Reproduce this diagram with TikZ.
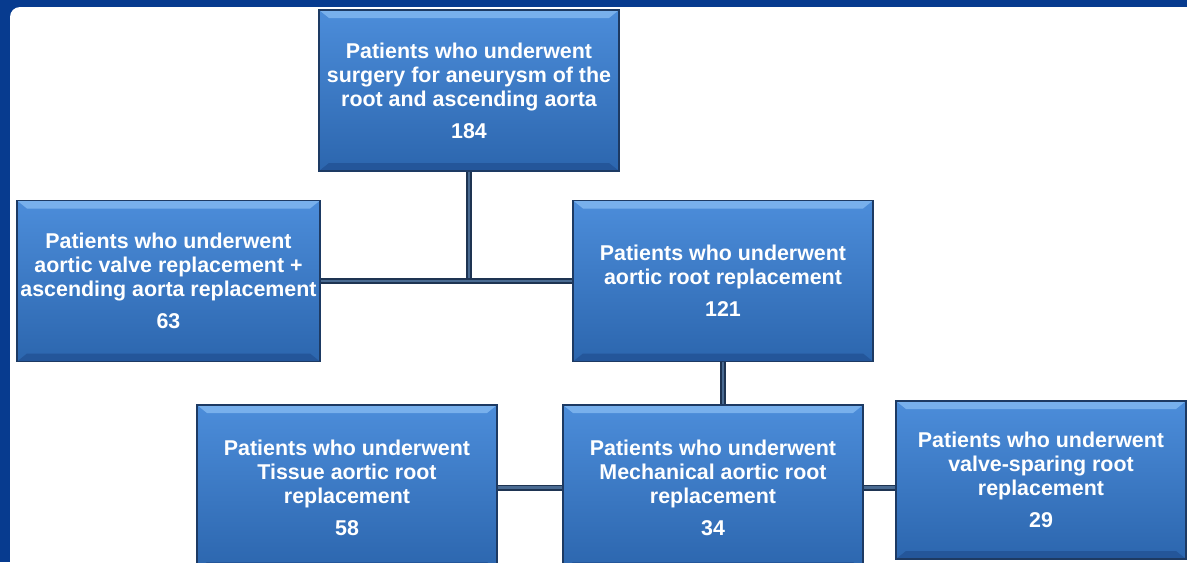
\documentclass[tikz,border=0pt]{standalone}
\usepackage{fontspec}
\setmainfont{Liberation Sans}

\definecolor{frame}{HTML}{073B8F}
\definecolor{boxedge}{HTML}{1D3A63}
\definecolor{boxtop}{HTML}{4C8DDA}
\definecolor{boxbottom}{HTML}{2C66AE}
\definecolor{boxhi}{HTML}{78B0EC}
\definecolor{boxlo}{HTML}{24569A}
\definecolor{linkedge}{HTML}{1E3452}
\definecolor{linkmid}{HTML}{4A6B92}

\begin{document}
\begin{tikzpicture}[
  x = 0.5pt,
  y = -0.5pt,
  box/.style = {
    shape = rectangle,
    draw = boxedge,
    line width = 0.8pt,
    top color = boxtop,
    bottom color = boxbottom,
    minimum width = 150pt,
    minimum height = 80.5pt,
    inner sep = 0pt,
    align = center,
    text = white,
    font = \bfseries\fontsize{10.7}{12}\selectfont,
    path picture = {
      \fill[boxhi] (path picture bounding box.north west)
        -- (path picture bounding box.north east)
        -- ([xshift = -5pt, yshift = -4pt] path picture bounding box.north east)
        -- ([xshift = 5pt, yshift = -4pt] path picture bounding box.north west) -- cycle;
      \fill[boxlo] (path picture bounding box.south west)
        -- (path picture bounding box.south east)
        -- ([xshift = -5pt, yshift = 4pt] path picture bounding box.south east)
        -- ([xshift = 5pt, yshift = 4pt] path picture bounding box.south west) -- cycle;
    }
  },
  link/.style = {
    draw = linkedge,
    line width = 0.8pt,
    double = linkmid,
    double distance = 1.4pt
  }
]
  \useasboundingbox (0, 0) rectangle (1187, 562);
  \clip (0, 0) rectangle (1187, 562);

  % slide background
  \fill[frame] (0, 0) rectangle (1187, 562);
  \fill[white, rounded corners = 5pt] (10, 7) rectangle (1210, 590);

  \node[box] (root) at (469, 90.5)
    {Patients who underwent\\surgery for aneurysm of the\\root and ascending aorta\\[4pt]184};

  \node[box, minimum width = 151.5pt] (avr) at (168.5, 281)
    {Patients who underwent\\aortic valve replacement +\\ascending aorta replacement\\[4pt]63};
  \node[box] (arr) at (723, 281)
    {Patients who underwent\\aortic root replacement\\[4pt]121};

  \node[box, minimum height = 82.5pt] (tissue) at (347, 487.5)
    {Patients who underwent\\Tissue aortic root\\replacement\\[4pt]58};
  \node[box, minimum height = 82.5pt] (mech) at (713, 487.5)
    {Patients who underwent\\Mechanical aortic root\\replacement\\[4pt]34};
  \node[box, minimum width = 145pt, minimum height = 79pt] (vsr) at (1041, 480)
    {Patients who underwent\\valve-sparing root\\replacement\\[4pt]29};

  \draw[link] (root.south) -- (root.south |- avr.east);
  \draw[link] (avr.east) -- (arr.west);
  \draw[link] (arr.south) -- (arr.south |- mech.north);
  \draw[link] (tissue.east) -- (mech.west);
  \draw[link] (mech.east) -- (mech.east -| vsr.west);
\end{tikzpicture}
\end{document}
